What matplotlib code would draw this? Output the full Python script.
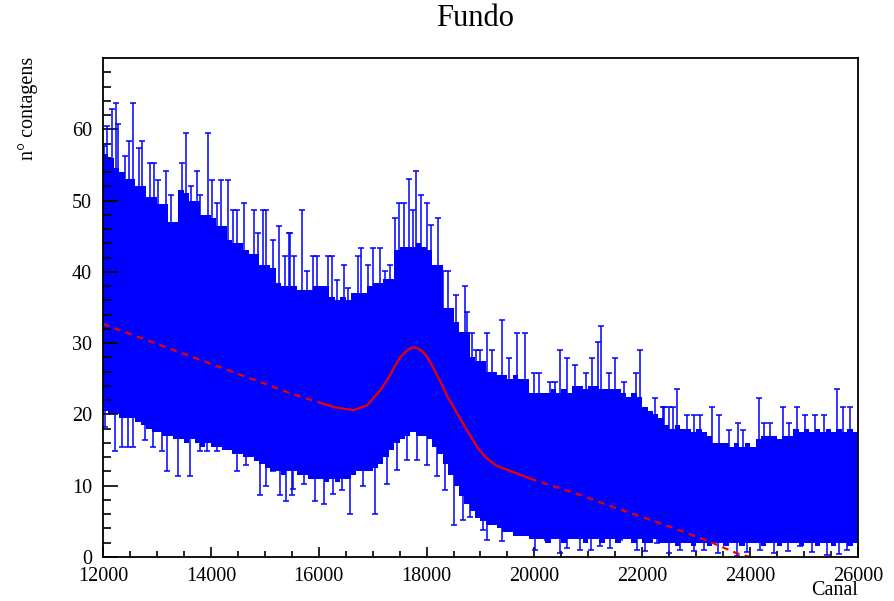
import numpy as np
import matplotlib.pyplot as plt

plt.rcParams['font.family'] = ['Liberation Serif', 'DejaVu Serif']

# dense part of the error-bar band, per 100-channel column
edges = np.arange(12000, 26001, 100)
mass_top = [56.5, 56, 54.5, 54, 53, 53, 52, 52, 50.5, 50.5,
            49.5, 49.5, 47, 47, 51.5, 51, 50, 50, 48, 48,
            47.5, 46.5, 46.5, 44.5, 44, 44, 43, 42.5, 42.5, 41,
            41, 40.5, 38.5, 38, 38, 38, 37.5, 37.5, 37.5, 38,
            38, 38, 36.5, 36, 36.5, 36, 37, 37, 37, 38,
            38.5, 38.5, 39, 39, 43, 43.5, 43.5, 43.5, 44, 43.5,
            43, 41, 41, 35, 35, 33, 31.5, 31.5, 28, 27.5,
            27.5, 26, 26, 25.5, 25.5, 25, 25.5, 25, 25, 23,
            23, 23, 23, 23.5, 23, 23.5, 23, 24, 24, 23.5,
            24, 24, 23.5, 23.5, 23.5, 23.5, 23, 22.5, 23, 22.5,
            21, 20.5, 20, 19.5, 18.5, 18, 18.5, 18, 18, 17.5,
            18, 17.5, 17, 16, 16, 16, 15.5, 16, 15.5, 16,
            15.5, 16.5, 17, 17, 17, 16.5, 17, 17, 18, 17.5,
            18, 17.5, 18, 17.5, 18, 17.5, 18, 17.5, 18, 17.5]
mass_low = [20.5, 20, 20, 19.5, 19.5, 19.5, 19, 18.5,
            18, 17.5, 17.5, 17, 17, 16.5, 16.5,
            16, 16.5, 16, 15.5, 16, 15.5, 15.5, 15, 15, 14.5,
            14.5, 14, 14, 13.5, 13, 12.5, 12,
            12, 11.5, 12, 12, 11.5, 11.5, 11, 11, 11, 10.5, 11, 10.5, 11, 11, 11.5, 12, 12, 12,
            12.5, 13, 14, 15,
            16, 16.5, 17, 17.5, 17, 17, 16.5, 15.5,
            14.5, 13,
            11.5, 10, 8.5, 7.5, 6.5, 5.5,
            5, 4.5, 4.5,
            4, 3.5, 3.5, 3, 3, 3, 2.5,
            2.5, 2.5, 2, 2.5, 2.5, 2, 2.5, 2.5, 2.5, 2, 2.5, 2.5, 2,
            2.5, 2.5, 2, 2.5, 2.5, 2, 2.5, 2, 2, 2.5, 2, 2,
            2, 1.5, 2, 2, 1.5, 2, 2, 1.5, 2, 2, 1.5, 2, 2, 1.5, 2, 2, 2, 1.5,
            2, 2, 1.5, 2, 2, 2, 1.5, 2, 2, 1.5, 2, 2, 1.5, 2, 2, 1.5, 2]

# single bars reaching above the band (channel, top of bar)
up_x = [12018, 12068, 12160, 12234, 12284, 12408, 12488, 12562, 12673, 12729,
        12871, 12951, 13025, 13161, 13260, 13470, 13532, 13625, 13736, 13798,
        13940, 14014, 14107, 14181, 14323, 14416, 14478, 14620, 14799, 14880,
        14972, 15015, 15158, 15269, 15374, 15454, 15470, 15550, 15686, 15779,
        15902, 15964, 16180, 16242, 16335, 16477, 16539, 16724, 16786, 16910,
        17008, 17145, 17231, 17324, 17417, 17497, 17577, 17676, 17750, 17806,
        17892, 18004, 18078, 18207, 18313, 18393, 18541, 18714, 18751, 18840,
        18920, 18994, 19118, 19211, 19396, 19520, 19674, 19829, 19983, 20094,
        20280, 20385, 20478, 20601, 20756, 20960, 21065, 21176, 21232, 21374,
        21503, 21652, 21880, 21955, 22239, 22381, 22396, 22488, 22569, 22643,
        22828, 22952, 23063, 23292, 23416, 23601, 23774, 23867, 24170, 24250,
        24373, 24608, 24713, 24868, 25022, 25208, 25362, 25609, 25721, 25857]
up_hi = [57.6, 60.4, 62.8, 63.7, 60.7, 56.2, 58.3, 63.7, 57.4, 58.3,
         55.3, 55.3, 52.9, 54.1, 50.8, 55.3, 59.5, 52.0, 54.1, 50.8,
         59.5, 52.9, 49.7, 52.9, 52.9, 48.7, 48.7, 49.7, 48.7, 45.5,
         48.7, 48.7, 44.5, 46.4, 42.2, 45.5, 45.5, 42.2, 48.7, 40.1,
         42.2, 42.2, 42.2, 42.2, 38.9, 41.0, 37.7, 42.2, 43.3, 41.0,
         43.3, 43.3, 40.1, 41.0, 47.6, 49.7, 49.7, 53.0, 48.7, 54.1,
         50.8, 49.7, 46.6, 47.6, 40.1, 40.1, 36.8, 38.0, 34.4, 31.4,
         29.1, 29.1, 31.4, 29.1, 33.3, 27.9, 31.4, 31.4, 25.8, 25.8,
         24.6, 24.6, 29.1, 27.9, 27.0, 25.8, 27.9, 30.2, 32.4, 25.8,
         27.9, 24.6, 25.8, 29.1, 22.3, 21.1, 21.1, 21.1, 21.1, 23.5,
         19.9, 19.9, 19.9, 21.1, 19.9, 17.8, 18.8, 17.8, 22.3, 18.8,
         18.8, 21.1, 18.8, 21.1, 19.9, 19.9, 19.9, 23.5, 21.1, 21.1]

# single bars reaching below the band (channel, bottom of bar)
dn_x = [12040, 12220, 12350, 12470, 12560, 12780, 12930, 13090, 13180, 13400,
        13610, 13800, 13920, 14110, 14290, 14480, 14660, 14910, 15030, 15160,
        15280, 15400, 15500, 15530, 15720, 15930, 16090, 16270, 16430, 16580,
        16830, 17045, 17260, 17450, 17630, 17820, 18000, 18190, 18340, 18500,
        18680, 18810, 19050, 19120, 19395, 19670, 20010, 20230, 20480, 20850,
        21220, 21590, 21900, 22270, 22705, 23140, 23755, 24190, 24930, 25424,
        25800, 20600, 21050, 21400, 22050, 22500, 22950, 23400, 23950, 24450,
        24700, 25150, 25650]
dn_lo = [18.3, 14.8, 15.5, 15.5, 15.5, 16.4, 15.5, 14.8, 12.0, 11.3,
         11.3, 14.8, 14.8, 14.8, 15.5, 12.0, 12.9, 8.7, 9.9, 12.0,
         8.7, 7.8, 8.7, 9.6, 10.3, 7.9, 7.5, 8.9, 9.4, 6.1,
         9.9, 6.1, 10.3, 12.2, 13.6, 13.6, 12.9, 11.3, 9.4, 4.5,
         5.2, 5.6, 3.8, 2.4, 2.2, 3.3, 1.0, 2.4, 0.5, 1.0,
         1.5, 2.4, 1.0, 1.9, 1.0, 1.0, 0.1, 1.0, 1.5, 0.3,
         1.0, 1.2, 1.0, 1.2, 0.8, 0.6, 0.8, 0.5, 0.7, 0.6,
         0.8, 0.7, 0.4]

# fit: background + peak (solid inside the fit range, dashed outside)
fit_x_left = [12000, 13000, 14000, 15000, 15500, 16000]
fit_y_left = [32.7, 29.9, 27.1, 24.3, 22.9, 21.7]
fit_x_mid = [16000, 16300, 16640, 16900, 17140, 17300, 17400, 17500, 17600, 17680,
             17750, 17820, 17900, 18000, 18120, 18250, 18380, 18570, 18750, 18940,
             19090, 19300, 19610, 19920]
fit_y_mid = [21.7, 21.0, 20.6, 21.3, 23.4, 25.2, 26.6, 27.9, 28.7, 29.2,
             29.4, 29.3, 29.0, 28.2, 26.6, 24.7, 22.6, 20.1, 17.8, 15.4,
             14.0, 12.8, 11.9, 11.0]
fit_x_right = [19920, 20850, 21460, 22000, 22600, 23200, 23760, 24000]
fit_y_right = [11.0, 8.7, 7.0, 5.6, 4.0, 2.3, 0.5, 0.0]

fig = plt.figure(figsize=(8.95, 6.01), dpi=100)
ax = fig.add_axes([103/895, 44/601, 755/895, 499/601])

blue = '#0000ff'
ax.stairs(mass_top, edges, baseline=mass_low, fill=True, color=blue, lw=0)

col_up = ((np.array(up_x) - 12000) // 100).astype(int)
ax.vlines(up_x, np.array(mass_top)[col_up] - 2, up_hi, color=blue, lw=1.1)
ax.plot(up_x, up_hi, '_', color=blue, ms=5, mew=1.1)
col_dn = ((np.array(dn_x) - 12000) // 100).astype(int)
ax.vlines(dn_x, dn_lo, np.array(mass_low)[col_dn] + 2, color=blue, lw=1.1)
ax.plot(dn_x, dn_lo, '_', color=blue, ms=5, mew=1.1)

red = '#ee0000'
ax.plot(fit_x_left, fit_y_left, color=red, lw=1.6, ls=(0, (3, 2.4)))
ax.plot(fit_x_mid, fit_y_mid, color=red, lw=1.6)
ax.plot(fit_x_right, fit_y_right, color=red, lw=1.6, ls=(0, (3, 2.4)))

ax.set_xlim(12000, 26000)
ax.set_ylim(0, 70)
ax.set_xticks(np.arange(12000, 26001, 2000))
ax.set_xticks(np.arange(12000, 26001, 500), minor=True)
ax.set_yticks(np.arange(0, 61, 10))
ax.set_yticks(np.arange(0, 70, 2), minor=True)
ax.tick_params(axis='both', which='both', direction='in', labelsize=14.5, width=1.2)
ax.tick_params(axis='y', which='major', length=11, pad=8)
ax.tick_params(axis='y', which='minor', length=6)
ax.tick_params(axis='x', which='major', length=7, pad=7.5)
ax.tick_params(axis='x', which='minor', length=4)
for s in ax.spines.values():
    s.set_linewidth(1.3)

fig.text(475/895, 1 - 18/601, 'Fundo', ha='center', va='center', fontsize=22)
fig.text(28/895, 1 - 57/601, 'n° contagens', rotation=90, ha='center', va='top', fontsize=14.5)
fig.text(858/895, 1 - 600/601, 'Canal', ha='right', va='bottom', fontsize=14.5)

fig.savefig('out.png', dpi=100)
